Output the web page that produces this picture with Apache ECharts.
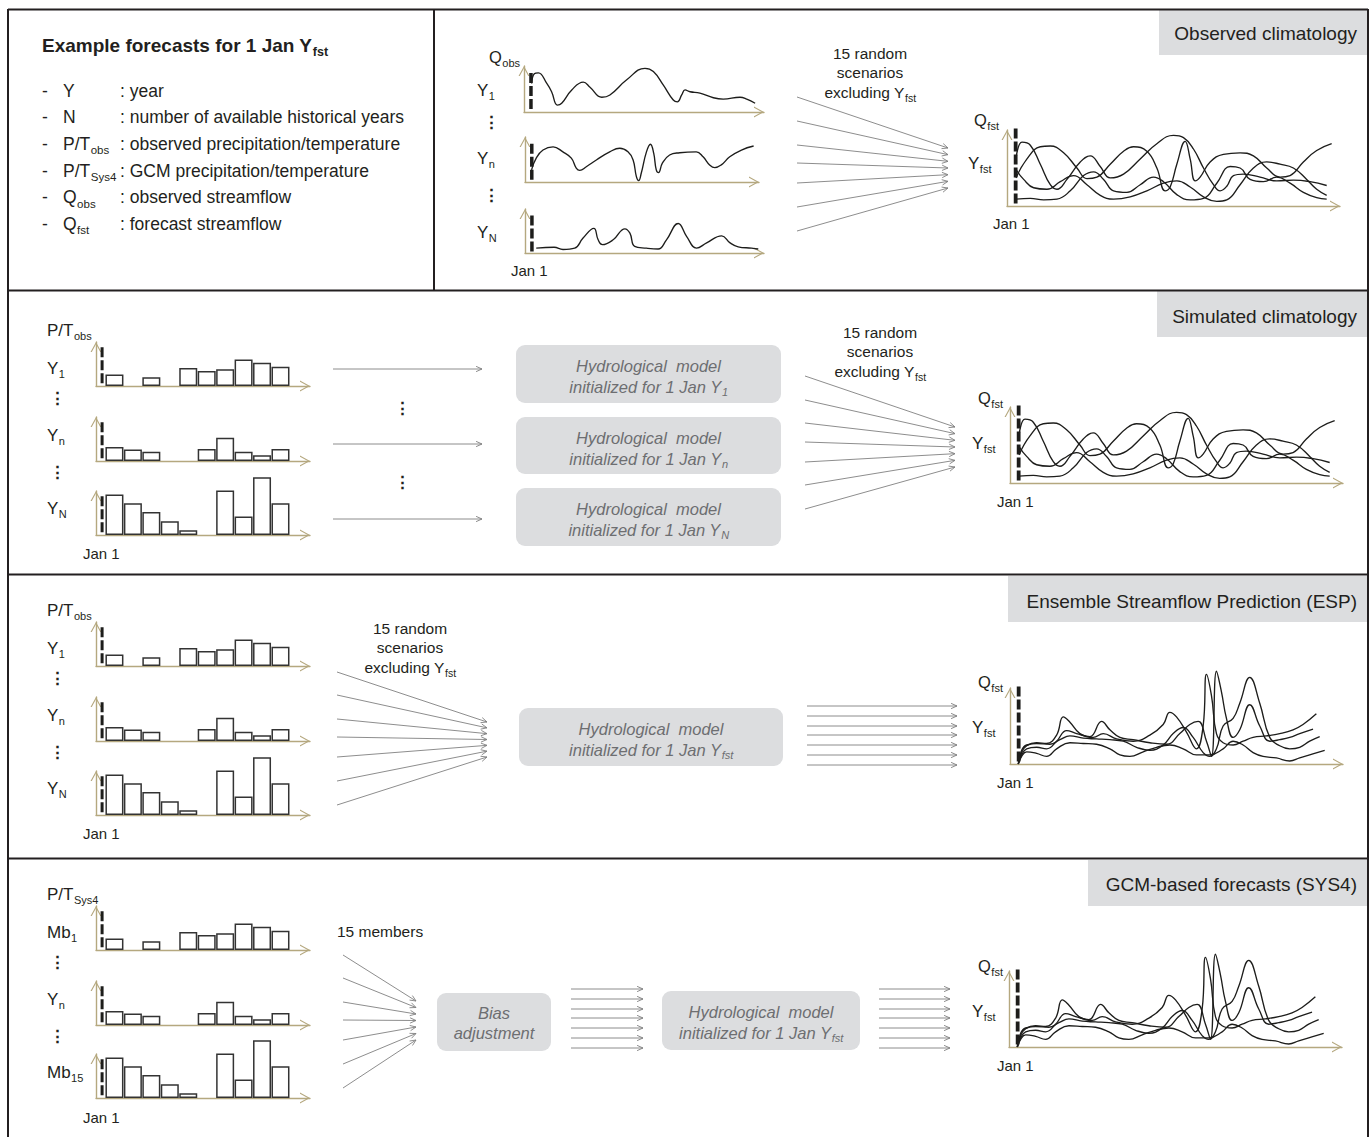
<!DOCTYPE html>
<html><head><meta charset="utf-8">
<script src="https://cdn.jsdelivr.net/npm/echarts@6/dist/echarts.min.js"></script>
<style>html,body{margin:0;padding:0;background:#fff}#c{width:1370px;height:1137px}</style>
</head><body><div id="c"></div>
<script>
// ================= DATA (relative units: x = share of the season axis 0-100, y = relative flow / precipitation 0-100) =================
const qObsY1 = [[3.2,62],[4.3,83],[6,85],[9.5,62],[11.5,44],[13.9,15],[15.7,19],[19.9,48],[24.7,65],[27.5,54],[32.4,32],[35.8,37],[42.8,70],[50.4,95],[53.9,88],[58,59],[62.2,26],[63.9,22],[65.7,37],[67.1,48],[69.2,44],[73.3,41],[78.9,31],[83,28],[90,32],[92.8,28],[96.3,19]];
const qObsYn = [[2.8,27],[4.8,53],[7.7,71],[12,78],[16.2,67],[19.8,53],[21.9,31],[23.4,26],[26.2,34],[30.5,49],[36.2,67],[40.5,75],[44,67],[46.2,49],[47.6,12],[48.6,3],[49.7,20],[51.9,67],[53.6,84],[55,64],[56.1,27],[57.1,21],[58.7,42],[61.8,60],[66.1,65],[73.2,67],[76.1,56],[78.9,38],[81.1,32],[83.9,38],[87.5,56],[92.5,71],[97.7,80]];
const qObsYN = [[4.7,11],[12.2,13],[15.9,8],[20.8,11],[24.3,34],[28.8,56],[30.6,30],[32.4,19],[36.9,30],[41.8,55],[43.9,45],[45.9,15],[50.8,11],[55.7,9],[59.2,30],[64.1,67],[67.6,38],[71.8,11],[76,23],[82.3,39],[85.8,23],[89.2,14],[94.8,11],[97.6,9]];

const qClimA = [[2.7,62],[4.5,84],[7,80],[10,55],[13,28],[15,22],[18,35],[22,58],[25,66],[28,52],[31,37],[35,42],[40,62],[45,82],[50,93],[53,90],[56,75],[59,50],[62,28],[64,20],[66,26],[68,40],[71,42],[76,38],[81,33],[86,34],[91,32],[96,27]];
const qClimB = [[2.7,37],[6,62],[10,78],[13,79],[17,70],[21,50],[24,36],[27,38],[31,55],[35,72],[38,78],[42,72],[45,50],[47.5,20],[49,25],[51,55],[53.5,85],[55,62],[56.5,33],[58,38],[61,58],[65,68],[70,70],[74,66],[78,50],[82,38],[85,40],[89,58],[93,73],[97.5,82]];
const qClimC = [[2.7,9],[7,10],[11,8],[15,9],[19,20],[23,40],[26,45],[29,35],[32,20],[36,18],[40,28],[44,38],[47,32],[51,15],[55,8],[59,10],[63,30],[67,52],[70,50],[73,35],[77,32],[81,38],[85,30],[89,18],[93,11],[96,9]];
const qClimD = [[2.7,48],[5,35],[8,24],[12,22],[16,32],[20,40],[24,28],[28,14],[32,9],[37,12],[42,20],[47,30],[51,33],[55,25],[59,12],[63,6],[66,8],[70,28],[74,50],[78,58],[82,55],[86,50],[90,35],[93,22],[96,14]];

const qEspA = [[2.5,0],[3.5,15],[5,24],[8,28],[11,27],[14,38],[16,62],[18,55],[21,40],[25,35],[28,40],[32,33],[37,30],[42,38],[46,52],[48,68],[50,62],[53,42],[56,20],[58,50],[59,118],[60.5,90],[62,40],[64,28],[67,25],[70,30],[73,35],[77,37],[81,40],[85,45],[88,52],[92,66]];
const qEspB = [[2.5,0],[3.5,12],[5,20],[8,22],[11,20],[14,30],[17,44],[20,40],[24,36],[27.5,56],[30,45],[33,35],[37,32],[42,28],[47,26],[51,40],[54,52],[56.5,56],[59,30],[60.5,10],[62,122],[63.5,95],[65,60],[67,35],[69,45],[72,78],[75,50],[78,30],[81,32],[84,35],[87,40],[91,46]];
const qEspC = [[2.5,0],[3.5,18],[5,25],[8,27],[12,26],[15,32],[18,37],[22,34],[26,33],[30,32],[34,30],[38,22],[42,18],[46,25],[49,40],[52,48],[55,35],[58,15],[60,10],[62,20],[64,50],[67,60],[69,80],[72,114],[75,80],[78,35],[81,24],[84,20],[87,22],[90,30],[93,36]];
const qEspD = [[2.5,0],[3.5,10],[5,16],[8,14],[11,10],[14,20],[18,28],[22,27],[26,26],[30,20],[33,12],[36,10],[40,16],[44,22],[48,25],[52,20],[56,12],[60,12],[64,20],[67,30],[70,25],[73,15],[76,10],[80,8],[84,4],[87,8],[90,12],[94.5,18]];

// precipitation bins (bin number, relative amount)
const pY1 = [[1,26],[3,20],[5,41],[6,34],[7,38],[8,60],[9,53],[10,44]];
const pYn = [[1,32],[2,26],[3,21],[6,27],[7,53],[8,21],[9,13],[10,27]];
const pYN = [[1,92],[2,72],[3,52],[4,31],[5,11],[7,101],[8,42],[9,131],[10,72]];

// Jan 1 markers (x position, top)
const jan1Obs = [[2.9,85],[2.9,0]];
const jan1Fst = [[2.6,102],[2.6,0]];
const jan1Bar = [[0.33,88],[0.33,0]];

const panelTitles = ['Observed climatology','Simulated climatology','Ensemble Streamflow Prediction (ESP)','GCM-based forecasts (SYS4)'];
const rowLabelsObs = [['Y','1'],['Y','n'],['Y','N']];
const rowLabelsSys4 = [['Mb','1'],['Y','n'],['Mb','15']];
const legendTerms = [['Y',''],['N',''],['P/T','obs'],['P/T','Sys4'],['Q','obs'],['Q','fst']];
const legendDescs = [': year',': number of available historical years',': observed precipitation/temperature',': GCM precipitation/temperature',': observed streamflow',': forecast streamflow'];

// ================= LAYOUT =================
const FONT = '"Liberation Sans", Arial, Helvetica, sans-serif';
const INK = '#231f20';
const AX = '#b5a87f';
const ARR = '#808080';
const BOXF = '#dcdddf';
const mctx = document.createElement('canvas').getContext('2d');
function tw(s, size, o) { mctx.font = (o && o.italic ? 'italic ' : 'normal ') + 'normal ' + (o && o.bold ? 'bold ' : 'normal ') + size + 'px ' + FONT; return mctx.measureText(s).width; }

const grids = [], xAxes = [], yAxes = [], series = [];
const arrowPath = 'path://M0,10L5.5,0L11,10L9.7,10L5.5,2.3L1.3,10Z';
function addGrid(left, top, width, height, xmax, ymax) {
  const i = grids.length;
  grids.push({left, top, width, height, containLabel: false});
  const axisLine = {show: true, onZero: false, symbol: ['none', arrowPath], symbolSize: [11, 10], symbolOffset: [0, -5], lineStyle: {color: AX, width: 1.4}};
  const common = {gridIndex: i, axisLine, axisTick: {show: false}, axisLabel: {show: false}, splitLine: {show: false}};
  xAxes.push(Object.assign({type: 'value', min: 0, max: xmax}, common));
  yAxes.push(Object.assign({type: 'value', min: 0, max: ymax}, common));
  return i;
}
function addLine(i, data, o) {
  o = o || {};
  series.push({type: 'line', xAxisIndex: i, yAxisIndex: i, data, symbol: 'none', smooth: o.smooth === undefined ? 0.45 : o.smooth,
    clip: false, silent: true, z: o.z || 3, lineStyle: {color: '#1d1d1b', width: o.width || 1.35, type: o.type || 'solid'}});
}
function addBars(i, data) {
  series.push({type: 'bar', xAxisIndex: i, yAxisIndex: i, data, barWidth: 18, clip: false, silent: true, z: 2,
    itemStyle: {color: '#ffffff', borderColor: '#333333', borderWidth: 1.5}});
}
function dashed(i, data, w) { addLine(i, data, {smooth: false, width: w || 3.5, type: [10, 3], z: 4}); }

// ---- observed streamflow (panel 1 left) ----
let g;
g = addGrid(524, 66, 240, 46, 100, 100); addLine(g, qObsY1); dashed(g, jan1Obs);
g = addGrid(525, 137, 234, 45, 100, 100); addLine(g, qObsYn); dashed(g, jan1Obs);
g = addGrid(525, 209, 239, 44, 100, 100); addLine(g, qObsYN); dashed(g, jan1Obs);

// ---- forecast charts ----
function climChart(l, t) { const i = addGrid(l, t, 333, 76, 100, 100); [qClimA, qClimB, qClimC, qClimD].forEach(d => addLine(i, d)); dashed(i, jan1Fst, 3.8); }
function espChart(l, t) { const i = addGrid(l, t, 333, 76, 100, 100); [qEspA, qEspB, qEspC, qEspD].forEach(d => addLine(i, d)); dashed(i, jan1Fst, 3.8); }
climChart(1007, 130);
climChart(1010, 407);
espChart(1010, 688);
espChart(1009, 971);

// ---- precipitation bar charts ----
function barSet(tops) {
  [pY1, pYn, pYN].forEach((d, k) => { const i = addGrid(96, tops[k], 214, 44, 11.6, 100); addBars(i, d); dashed(i, jan1Bar, 3); });
}
barSet([342, 417, 491]);
barSet([622, 697, 771]);
barSet([906, 981, 1054]);

// ---- graphics ----
const G = [];
function gline(x1, y1, x2, y2, c, w, z) { G.push({type: 'line', z: z || 50, shape: {x1, y1, x2, y2}, style: {stroke: c, lineWidth: w}}); }
function grect(x, y, w, h, r, fill) { G.push({type: 'rect', z: 40, shape: {x, y, width: w, height: h, r}, style: {fill}}); }
function gtext(x, y, s, size, o) {
  o = o || {};
  G.push({type: 'text', z: 60, x, y, style: {text: s, fontSize: size, fontFamily: FONT, fontStyle: o.italic ? 'italic' : 'normal',
    fontWeight: o.bold ? 'bold' : 'normal', fill: o.color || INK, align: o.align || 'left', verticalAlign: 'middle'}});
}
function gsub(x, y, main, sub, size, o) {
  o = o || {};
  const ss = o.ss || Math.round(size * 0.66);
  const w1 = tw(main, size, o), w2 = sub ? tw(sub, ss, o) : 0;
  let x0 = x;
  if (o.align === 'center') x0 = x - (w1 + w2) / 2; else if (o.align === 'right') x0 = x - (w1 + w2);
  const oo = Object.assign({}, o, {align: 'left'});
  gtext(x0, y, main, size, oo);
  if (sub) gtext(x0 + w1 + (o.gap || 0.5), y + size * (o.drop || 0.36), sub, ss, oo);
}
function garrow(x1, y1, x2, y2) {
  const a = Math.atan2(y2 - y1, x2 - x1), L = 6.5, s = 0.42;
  gline(x1, y1, x2, y2, ARR, 0.9, 45);
  G.push({type: 'polyline', z: 45, shape: {points: [[x2 - L * Math.cos(a - s), y2 - L * Math.sin(a - s)], [x2, y2], [x2 - L * Math.cos(a + s), y2 - L * Math.sin(a + s)]]},
    style: {stroke: ARR, lineWidth: 0.9, fill: 'none'}});
}
function fan(x1, ys, x2, yt0, yt1) { ys.forEach((y, k) => garrow(x1, y, x2, yt0 + (yt1 - yt0) * k / (ys.length - 1))); }
function parallel(x1, x2, ys) { ys.forEach(y => garrow(x1, y, x2, y)); }
function dots(x, y) { gtext(x, y, '\u22EE', 17, {align: 'center', bold: true}); }

// title boxes
[[1159, 10, 209, 45, 33], [1157, 291, 211, 46, 316], [1008, 576, 360, 46, 601], [1088, 860, 280, 46, 884]].forEach((b, k) => {
  grect(b[0], b[1], b[2], b[3], 0, BOXF);
  gtext(1357, b[4], panelTitles[k], 19, {align: 'right'});
});

// frame
gline(8, 9.5, 1368, 9.5, INK, 2); gline(8, 9, 8, 1137, INK, 2); gline(1368, 9, 1368, 1137, INK, 2);
gline(8, 290.5, 1368, 290.5, INK, 2); gline(8, 574.5, 1368, 574.5, INK, 2); gline(8, 858.5, 1368, 858.5, INK, 2);
gline(434, 9, 434, 290.5, INK, 2);

// legend box
gsub(42, 45, 'Example forecasts for 1 Jan Y', 'fst', 19, {bold: true, ss: 12.5});
legendTerms.forEach((t, k) => {
  const y = 90.5 + 26.7 * k;
  gtext(42, y, '-', 17.5);
  gsub(63, y, t[0], t[1], 17.5, {ss: 11.5});
  gtext(120, y, legendDescs[k], 17.5);
});

// panel 1 labels
gsub(489, 57, 'Q', 'obs', 16.5, {ss: 11});
rowLabelsObs.forEach((t, k) => gsub(477, [90, 158, 232][k], t[0], t[1], 17, {ss: 11}));
dots(491, 122); dots(491, 195);
gtext(511, 270, 'Jan 1', 15);
function scenText(cx, y0) {
  gtext(cx, y0, '15 random', 15.5, {align: 'center'});
  gtext(cx, y0 + 19.5, 'scenarios', 15.5, {align: 'center'});
  gsub(cx, y0 + 39, 'excluding Y', 'fst', 15.5, {align: 'center', ss: 10.5});
}
scenText(870, 53);
fan(797, [97, 121, 145, 163, 183, 207, 231], 948, 148, 188);
function fstLabels(x, yq, yy, yj) {
  gsub(x, yq, 'Q', 'fst', 16.5, {ss: 11});
  gsub(x - 6, yy, 'Y', 'fst', 17, {ss: 11});
  gtext(x + 19, yj, 'Jan 1', 15);
}
fstLabels(974, 120, 163, 223);

// bar panels labels
function barLabels(dy, head, headSub, rows) {
  gsub(47, 330 + dy, head, headSub, 17, {ss: 11});
  rows.forEach((t, k) => gsub(47, [368, 435, 508][k] + dy, t[0], t[1], 17, {ss: 11}));
  dots(57, 398 + dy); dots(57, 472 + dy);
  gtext(83, 553 + dy, 'Jan 1', 15);
}
barLabels(0, 'P/T', 'obs', rowLabelsObs);
barLabels(280, 'P/T', 'obs', rowLabelsObs);
barLabels(564, 'P/T', 'Sys4', rowLabelsSys4);

// panel 2
[369, 444, 519].forEach(y => garrow(333, y, 482, y));
dots(402, 408); dots(402, 482);
function hydroBox(x, y, w, h, sub) {
  grect(x, y, w, h, 9, BOXF);
  const cx = x + w / 2;
  gtext(cx, y + 21, 'Hydrological  model', 16.5, {italic: true, color: '#6d6e71', align: 'center'});
  gsub(cx, y + 41.5, 'initialized for 1 Jan Y', sub, 16.5, {italic: true, color: '#6d6e71', align: 'center', ss: 11});
}
hydroBox(516, 345, 265, 58, '1');
hydroBox(516, 417, 265, 57, 'n');
hydroBox(516, 488, 265, 58, 'N');
scenText(880, 332);
fan(805, [376, 400, 423, 442, 462, 485, 509], 955, 427, 467);
fstLabels(978, 398, 443, 501);

// panel 3
scenText(410, 628);
fan(337, [672, 695, 719, 737, 757, 781, 805], 487, 722, 757);
hydroBox(519, 708, 264, 58, 'fst');
parallel(807, 957, [706, 716, 726, 735, 745, 755, 765]);
fstLabels(978, 682, 727, 782);

// panel 4
gtext(337, 931, '15 members', 15.5);
fan(343, [955, 978, 1002, 1020, 1040, 1064, 1088], 416, 1001, 1040);
grect(437, 993, 114, 58, 9, BOXF);
gtext(494, 1013, 'Bias', 16.5, {italic: true, color: '#6d6e71', align: 'center'});
gtext(494, 1033, 'adjustment', 16.5, {italic: true, color: '#6d6e71', align: 'center'});
parallel(571, 643, [989, 999, 1009, 1018, 1028, 1038, 1048]);
hydroBox(662, 991, 198, 59, 'fst');
parallel(879, 950, [989, 999, 1009, 1018, 1028, 1038, 1048]);
fstLabels(978, 966, 1011, 1065);

const chart = echarts.init(document.getElementById('c'), null, {renderer: 'svg', width: 1370, height: 1137});
chart.setOption({
  animation: false,
  backgroundColor: '#ffffff',
  grid: grids, xAxis: xAxes, yAxis: yAxes, series: series,
  graphic: {elements: G}
});
</script></body></html>
